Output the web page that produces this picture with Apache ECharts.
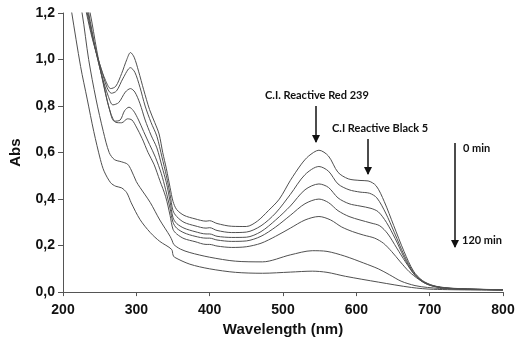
<!DOCTYPE html>
<html><head><meta charset="utf-8">
<script src="https://cdn.jsdelivr.net/npm/echarts@6/dist/echarts.min.js"></script>
<style>html,body{margin:0;padding:0;background:#fff}#c{width:520px;height:342px}</style>
</head><body><div id="c"></div>
<script>
// Spectra: [wavelength nm, absorbance]
const curve1 = [[225,1.32],[232,1.2],[240,1.09],[250,0.98],[258,0.91],[265,0.875],[272,0.885],[280,0.94],[287,1.0],[292,1.03],[297,1.01],[303,0.95],[310,0.87],[318,0.785],[325,0.73],[331,0.68],[336,0.6],[341,0.53],[346,0.45],[350,0.39],[355,0.355],[365,0.33],[380,0.315],[395,0.305],[400,0.307],[410,0.295],[430,0.283],[450,0.282],[465,0.305],[480,0.35],[495,0.40],[510,0.48],[525,0.55],[535,0.585],[549,0.61],[562,0.585],[575,0.515],[589,0.487],[605,0.48],[616,0.478],[627,0.457],[638,0.39],[651,0.286],[665,0.175],[678,0.09],[690,0.05],[705,0.028],[725,0.018],[760,0.013],[800,0.01]];
const curve2 = [[226,1.3],[233,1.2],[242,1.07],[252,0.96],[260,0.88],[266,0.855],[273,0.865],[282,0.92],[292,0.965],[298,0.945],[305,0.88],[312,0.8],[320,0.73],[328,0.67],[335,0.58],[341,0.5],[346,0.42],[350,0.35],[355,0.325],[365,0.3],[380,0.285],[395,0.275],[400,0.277],[410,0.265],[430,0.256],[450,0.258],[470,0.285],[490,0.34],[510,0.42],[530,0.505],[549,0.54],[562,0.52],[575,0.465],[590,0.44],[605,0.43],[618,0.425],[628,0.405],[640,0.34],[652,0.255],[665,0.16],[678,0.085],[690,0.048],[705,0.027],[725,0.017],[760,0.012],[800,0.01]];
const curve3 = [[227,1.3],[234,1.2],[243,1.06],[253,0.93],[262,0.84],[268,0.805],[276,0.815],[285,0.86],[292,0.875],[298,0.86],[305,0.81],[312,0.74],[320,0.675],[328,0.62],[335,0.54],[341,0.47],[346,0.39],[350,0.32],[355,0.295],[365,0.275],[380,0.26],[395,0.25],[400,0.25],[410,0.24],[430,0.235],[450,0.236],[470,0.26],[490,0.31],[510,0.37],[530,0.44],[549,0.465],[562,0.45],[575,0.405],[590,0.38],[605,0.37],[620,0.36],[630,0.345],[641,0.3],[653,0.23],[665,0.15],[678,0.08],[690,0.045],[705,0.026],[725,0.016],[760,0.012],[800,0.01]];
const curve4 = [[228,1.3],[235,1.2],[244,1.05],[255,0.9],[263,0.79],[270,0.735],[278,0.74],[284,0.78],[290,0.795],[296,0.78],[303,0.74],[310,0.69],[318,0.635],[326,0.58],[334,0.51],[340,0.44],[346,0.36],[350,0.3],[355,0.275],[365,0.255],[380,0.24],[395,0.232],[400,0.232],[410,0.224],[430,0.218],[450,0.22],[470,0.24],[490,0.28],[510,0.33],[530,0.38],[549,0.40],[562,0.385],[575,0.35],[590,0.325],[605,0.31],[620,0.297],[632,0.285],[643,0.25],[655,0.19],[667,0.13],[680,0.072],[692,0.042],[705,0.025],[725,0.016],[760,0.012],[800,0.01]];
const curve5 = [[229,1.3],[237,1.2],[246,1.04],[256,0.88],[265,0.77],[272,0.73],[280,0.728],[288,0.745],[294,0.74],[300,0.71],[308,0.66],[316,0.6],[324,0.55],[332,0.48],[340,0.41],[346,0.33],[350,0.27],[355,0.25],[365,0.23],[380,0.217],[395,0.205],[400,0.205],[410,0.198],[430,0.192],[450,0.195],[470,0.21],[490,0.24],[510,0.275],[530,0.31],[549,0.325],[565,0.31],[580,0.28],[595,0.26],[610,0.245],[625,0.232],[637,0.21],[648,0.175],[660,0.13],[672,0.088],[685,0.055],[698,0.032],[715,0.02],[740,0.014],[800,0.01]];
const curve6 = [[219,1.3],[226,1.2],[235,1.0],[245,0.83],[255,0.69],[263,0.6],[270,0.57],[280,0.56],[288,0.55],[293,0.525],[300,0.475],[305,0.45],[319,0.385],[332,0.31],[346,0.24],[349,0.22],[351,0.205],[360,0.185],[373,0.17],[400,0.15],[435,0.133],[472,0.13],[510,0.16],[540,0.178],[560,0.175],[584,0.155],[610,0.125],[630,0.1],[645,0.075],[661,0.047],[680,0.028],[697,0.02],[730,0.013],[800,0.01]];
const curve7 = [[207,1.3],[212,1.2],[224,0.97],[233,0.83],[242,0.69],[251,0.57],[256,0.52],[265,0.47],[272,0.455],[280,0.448],[287,0.427],[293,0.384],[305,0.312],[319,0.256],[332,0.218],[348,0.184],[350,0.16],[352,0.15],[373,0.12],[400,0.10],[435,0.085],[472,0.081],[510,0.086],[540,0.09],[560,0.085],[585,0.068],[630,0.043],[675,0.02],[705,0.012],[800,0.008]];
const curves = [curve1, curve2, curve3, curve4, curve5, curve6, curve7];
const xTicks = [200, 300, 400, 500, 600, 700, 800];
const yTicks = ['0,0', '0,2', '0,4', '0,6', '0,8', '1,0', '1,2'];

const chart = echarts.init(document.getElementById('c'), null, {renderer: 'canvas'});
const axisCol = '#555';
const lblFont = {color: '#111', fontFamily: 'Liberation Sans, Arial, sans-serif', fontWeight: 'bold', fontSize: 14};
const nameFont = {color: '#111', fontFamily: 'Liberation Sans, Arial, sans-serif', fontWeight: 'bold', fontSize: 15};
const annFont = {fill: '#111', fontFamily: 'Lato, sans-serif', fontWeight: 'bold', fontSize: 11};
chart.setOption({
  animation: false,
  backgroundColor: '#fff',
  grid: {left: 59, right: 17, top: 13, bottom: 48},
  xAxis: {
    type: 'value', min: 200, max: 800, interval: 100,
    name: 'Wavelength (nm)', nameLocation: 'middle', nameGap: 29,
    nameTextStyle: nameFont,
    axisLine: {show: true, lineStyle: {color: axisCol, width: 1}},
    axisTick: {show: true, inside: false, length: 4, lineStyle: {color: axisCol}},
    axisLabel: Object.assign({margin: 11, formatter: v => String(xTicks[Math.round((v - 200) / 100)])}, lblFont),
    splitLine: {show: false}
  },
  yAxis: {
    type: 'value', min: 0, max: 1.2, interval: 0.2,
    name: 'Abs', nameLocation: 'middle', nameGap: 40, nameRotate: 90,
    nameTextStyle: nameFont,
    axisLine: {show: true, lineStyle: {color: axisCol, width: 1}},
    axisTick: {show: true, inside: false, length: 5, lineStyle: {color: axisCol}},
    axisLabel: Object.assign({margin: 8, formatter: (v) => yTicks[Math.round(v / 0.2)]}, lblFont),
    splitLine: {show: false}
  },
  series: curves.map(d => ({
    type: 'line', data: d, showSymbol: false, smooth: 0.3, clip: true,
    lineStyle: {color: '#505050', width: 1}
  })),
  graphic: [
    {type: 'text', left: 265, top: 90, style: Object.assign({text: 'C.I. Reactive Red 239'}, annFont)},
    {type: 'line', shape: {x1: 316, y1: 106, x2: 316, y2: 142}, style: {stroke: '#111', lineWidth: 1.5}},
    {type: 'polygon', shape: {points: [[312, 135], [320, 135], [316, 143]]}, style: {fill: '#111'}},
    {type: 'text', left: 332, top: 123, style: Object.assign({text: 'C.I Reactive Black 5'}, annFont)},
    {type: 'line', shape: {x1: 368, y1: 139, x2: 368, y2: 174}, style: {stroke: '#111', lineWidth: 1.5}},
    {type: 'polygon', shape: {points: [[364, 167], [372, 167], [368, 175]]}, style: {fill: '#111'}},
    {type: 'text', left: 463, top: 143, style: Object.assign({text: '0 min'}, annFont)},
    {type: 'line', shape: {x1: 455, y1: 143, x2: 455, y2: 247}, style: {stroke: '#111', lineWidth: 1.5}},
    {type: 'polygon', shape: {points: [[451, 240], [459, 240], [455, 248]]}, style: {fill: '#111'}},
    {type: 'text', left: 462, top: 235, style: Object.assign({text: '120 min'}, annFont)}
  ]
});
</script></body></html>
